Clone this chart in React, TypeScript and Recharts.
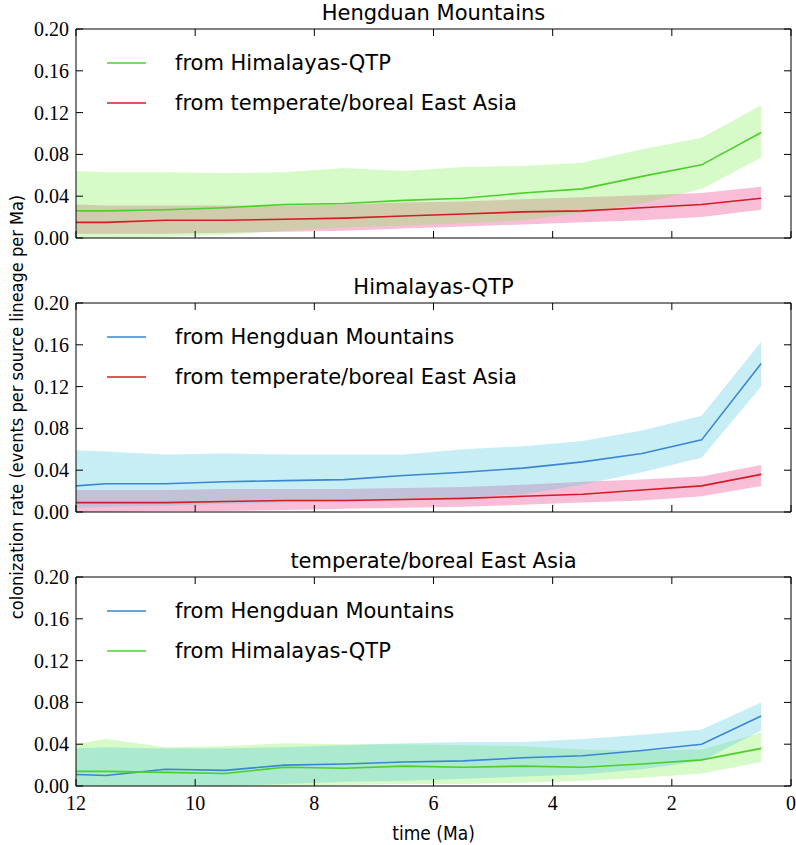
import React from 'react';
import { ComposedChart, Area, Line, XAxis, YAxis, Legend } from 'recharts';

// ---- data ----
const times = [12, 11.5, 10.5, 9.5, 8.5, 7.5, 6.5, 5.5, 4.5, 3.5, 2.5, 1.5, 0.5];
const xTicks = [12, 10, 8, 6, 4, 2, 0];
const yTicks = [0, 0.04, 0.08, 0.12, 0.16, 0.2];

const panelTitles = ['Hengduan Mountains', 'Himalayas-QTP', 'temperate/boreal East Asia'];

// Panel 1: Hengduan Mountains
const hdFromHimMean = [0.026, 0.026, 0.027, 0.029, 0.032, 0.033, 0.036, 0.038, 0.043, 0.047, 0.059, 0.070, 0.101];
const hdFromHimHi = [0.064, 0.063, 0.063, 0.062, 0.063, 0.067, 0.064, 0.068, 0.069, 0.072, 0.085, 0.096, 0.127];
const hdFromHimLo = [0.000, 0.000, 0.001, 0.003, 0.007, 0.010, 0.012, 0.014, 0.017, 0.024, 0.033, 0.047, 0.077];
const hdFromTempMean = [0.015, 0.015, 0.017, 0.017, 0.018, 0.019, 0.021, 0.023, 0.025, 0.026, 0.029, 0.032, 0.038];
const hdFromTempHi = [0.032, 0.031, 0.031, 0.031, 0.031, 0.032, 0.034, 0.035, 0.037, 0.039, 0.041, 0.043, 0.049];
const hdFromTempLo = [0.004, 0.004, 0.004, 0.005, 0.006, 0.007, 0.009, 0.011, 0.013, 0.015, 0.017, 0.020, 0.027];

// Panel 2: Himalayas-QTP
const himFromHdMean = [0.025, 0.027, 0.027, 0.029, 0.030, 0.031, 0.035, 0.038, 0.042, 0.048, 0.056, 0.069, 0.142];
const himFromHdHi = [0.059, 0.058, 0.055, 0.056, 0.055, 0.055, 0.055, 0.060, 0.063, 0.068, 0.078, 0.092, 0.163];
const himFromHdLo = [0.004, 0.005, 0.006, 0.008, 0.009, 0.010, 0.012, 0.014, 0.017, 0.026, 0.038, 0.052, 0.120];
const himFromTempMean = [0.009, 0.009, 0.009, 0.010, 0.011, 0.011, 0.012, 0.013, 0.015, 0.017, 0.021, 0.025, 0.036];
const himFromTempHi = [0.021, 0.021, 0.021, 0.022, 0.022, 0.022, 0.023, 0.024, 0.026, 0.029, 0.031, 0.034, 0.045];
const himFromTempLo = [0.000, 0.000, 0.001, 0.001, 0.002, 0.003, 0.004, 0.005, 0.007, 0.009, 0.011, 0.015, 0.025];

// Panel 3: temperate/boreal East Asia
const tempFromHdMean = [0.011, 0.010, 0.016, 0.015, 0.020, 0.021, 0.023, 0.024, 0.027, 0.029, 0.034, 0.040, 0.067];
const tempFromHdHi = [0.036, 0.037, 0.036, 0.036, 0.037, 0.039, 0.041, 0.042, 0.042, 0.045, 0.049, 0.054, 0.080];
const tempFromHdLo = [0.000, 0.000, 0.000, 0.000, 0.002, 0.004, 0.005, 0.007, 0.009, 0.011, 0.016, 0.024, 0.053];
const tempFromHimMean = [0.014, 0.014, 0.013, 0.012, 0.018, 0.017, 0.019, 0.018, 0.019, 0.018, 0.021, 0.025, 0.036];
const tempFromHimHi = [0.040, 0.045, 0.037, 0.038, 0.041, 0.040, 0.040, 0.039, 0.038, 0.035, 0.034, 0.035, 0.051];
const tempFromHimLo = [0.000, 0.000, 0.000, 0.000, 0.000, 0.001, 0.002, 0.002, 0.003, 0.005, 0.008, 0.012, 0.023];

// ---- styles ----
const GREEN = '#4ccf2c';
const RED = '#d41c25';
const BLUE = '#3a86d2';
const GREEN_FILL = '#76ee48';
const RED_FILL = '#e8267a';
const BLUE_FILL = '#48c6de';
const BAND_OPACITY = 0.3;

const SERIF = 'Liberation Serif, DejaVu Serif, serif';
const SANS = 'DejaVu Sans';
const COND = 'DejaVu Sans Condensed';

type Series = {
  name: string;
  color: string;
  fill: string;
  mean: number[];
  lo: number[];
  hi: number[];
};

const panels: { title: string; top: number; series: Series[]; bandOrder: number[]; showX: boolean }[] = [
  {
    title: panelTitles[0],
    top: 29,
    series: [
      { name: 'from Himalayas-QTP', color: GREEN, fill: GREEN_FILL, mean: hdFromHimMean, lo: hdFromHimLo, hi: hdFromHimHi },
      { name: 'from temperate/boreal East Asia', color: RED, fill: RED_FILL, mean: hdFromTempMean, lo: hdFromTempLo, hi: hdFromTempHi },
    ],
    bandOrder: [1, 0],
    showX: false,
  },
  {
    title: panelTitles[1],
    top: 303,
    series: [
      { name: 'from Hengduan Mountains', color: BLUE, fill: BLUE_FILL, mean: himFromHdMean, lo: himFromHdLo, hi: himFromHdHi },
      { name: 'from temperate/boreal East Asia', color: RED, fill: RED_FILL, mean: himFromTempMean, lo: himFromTempLo, hi: himFromTempHi },
    ],
    bandOrder: [1, 0],
    showX: false,
  },
  {
    title: panelTitles[2],
    top: 577,
    series: [
      { name: 'from Hengduan Mountains', color: BLUE, fill: BLUE_FILL, mean: tempFromHdMean, lo: tempFromHdLo, hi: tempFromHdHi },
      { name: 'from Himalayas-QTP', color: GREEN, fill: GREEN_FILL, mean: tempFromHimMean, lo: tempFromHimLo, hi: tempFromHimHi },
    ],
    bandOrder: [1, 0],
    showX: true,
  },
];

const PLOT_H = 209;
const CHART_TOP = 28; // margin above the 1px top axis
const TICK = 7;

const BottomTick = (showLabel: boolean) => (props: any) => {
  const { x, y, payload } = props;
  return (
    <g>
      <line x1={x} x2={x} y1={y} y2={y - TICK} stroke="#000" strokeWidth={1} />
      {showLabel && (
        <text x={x} y={y + 17} textAnchor="middle" dominantBaseline="central" fontFamily={SERIF} fontSize={20} fill="#000">
          {payload.value}
        </text>
      )}
    </g>
  );
};

const TopTick = (props: any) => {
  const { x, y } = props;
  return <line x1={x} x2={x} y1={y} y2={y + TICK} stroke="#000" strokeWidth={1} />;
};

const LeftTick = (props: any) => {
  const { x, y, payload } = props;
  return (
    <g>
      <line x1={x} x2={x + TICK} y1={y} y2={y} stroke="#000" strokeWidth={1} />
      <text x={x - 7} y={y} textAnchor="end" dominantBaseline="central" fontFamily={SERIF} fontSize={20} fill="#000">
        {Number(payload.value).toFixed(2)}
      </text>
    </g>
  );
};

const RightTick = (props: any) => {
  const { x, y } = props;
  return <line x1={x} x2={x - TICK} y1={y} y2={y} stroke="#000" strokeWidth={1} />;
};

const makeLegend = (series: Series[]) => () => (
  <svg width={430} height={84} style={{ display: 'block' }}>
    {series.map((s, i) => (
      <g key={i}>
        <line x1={7} x2={46} y1={20 + i * 40} y2={20 + i * 40} stroke={s.color} strokeWidth={1.6} />
        <text x={75} y={20 + i * 40} dominantBaseline="central" fontFamily={SANS} fontSize={21} fill="#000">
          {s.name}
        </text>
      </g>
    ))}
  </svg>
);

function Panel({ p }: { p: (typeof panels)[number] }) {
  const data = times.map((t, i) => {
    const row: any = { t };
    p.series.forEach((s, k) => {
      row[`m${k}`] = s.mean[i];
      row[`b${k}`] = [s.lo[i], s.hi[i]];
    });
    return row;
  });
  const xAxisH = p.showX ? 60 : 1;
  const height = CHART_TOP + 1 + PLOT_H + 12 + xAxisH;
  return (
    <div style={{ position: 'absolute', left: 0, top: p.top - CHART_TOP - 1 }}>
      <ComposedChart width={796} height={height} data={data} margin={{ top: CHART_TOP, right: 4, bottom: 12, left: 0 }}>
        <XAxis
          dataKey="t"
          type="number"
          domain={[0, 12]}
          reversed
          ticks={xTicks}
          interval={0}
          height={xAxisH}
          tickSize={0}
          tickMargin={0}
          tickLine={false}
          axisLine={{ stroke: '#000', strokeWidth: 1 }}
          tick={BottomTick(p.showX)}
          allowDataOverflow
        />
        <XAxis
          xAxisId="top"
          orientation="top"
          dataKey="t"
          type="number"
          domain={[0, 12]}
          reversed
          ticks={xTicks}
          interval={0}
          height={1}
          tickSize={0}
          tickMargin={0}
          tickLine={false}
          axisLine={{ stroke: '#000', strokeWidth: 1 }}
          tick={TopTick}
          allowDataOverflow
        />
        <YAxis
          type="number"
          domain={[0, 0.2]}
          ticks={yTicks}
          interval={0}
          width={76}
          tickSize={0}
          tickMargin={0}
          tickLine={false}
          axisLine={{ stroke: '#000', strokeWidth: 1 }}
          tick={LeftTick}
          allowDataOverflow
        />
        <YAxis
          yAxisId="right"
          orientation="right"
          type="number"
          domain={[0, 0.2]}
          ticks={yTicks}
          interval={0}
          width={1}
          tickSize={0}
          tickMargin={0}
          tickLine={false}
          axisLine={{ stroke: '#000', strokeWidth: 1 }}
          tick={RightTick}
          allowDataOverflow
        />
        <Legend
          layout="horizontal"
          verticalAlign="middle"
          align="center"
          content={makeLegend(p.series)}
          wrapperStyle={{ left: 100, top: CHART_TOP + 15, width: 430, height: 84 }}
        />
        {p.bandOrder.map((k) => (
          <Area
            key={`b${k}`}
            dataKey={`b${k}`}
            type="linear"
            stroke="none"
            fill={p.series[k].fill}
            fillOpacity={BAND_OPACITY}
            isAnimationActive={false}
            activeDot={false}
            legendType="none"
          />
        ))}
        {p.series.map((s, k) => (
          <Line
            key={`m${k}`}
            dataKey={`m${k}`}
            type="linear"
            stroke={s.color}
            strokeWidth={1.6}
            dot={false}
            activeDot={false}
            isAnimationActive={false}
            name={s.name}
          />
        ))}
      </ComposedChart>
    </div>
  );
}

export default function App() {
  return (
    <div style={{ position: 'absolute', left: 0, top: 0, width: 796, height: 845, background: '#fff', overflow: 'hidden' }}>
      {panels.map((p, i) => (
        <Panel key={i} p={p} />
      ))}
      <svg width={796} height={845} style={{ position: 'absolute', left: 0, top: 0, pointerEvents: 'none' }}>
        {panels.map((p, i) => (
          <text key={i} x={433.5} y={p.top - 9} textAnchor="middle" fontFamily={SANS} fontSize={21} fill="#000">
            {p.title}
          </text>
        ))}
        <text
          x={16}
          y={407}
          transform="rotate(-90 16 407)"
          textAnchor="middle"
          dominantBaseline="central"
          fontFamily={COND}
          fontSize={18}
          fill="#000"
        >
          colonization rate (events per source lineage per Ma)
        </text>
        <text x={433.5} y={833} textAnchor="middle" dominantBaseline="central" fontFamily={COND} fontSize={19} fill="#000">
          time (Ma)
        </text>
      </svg>
    </div>
  );
}
